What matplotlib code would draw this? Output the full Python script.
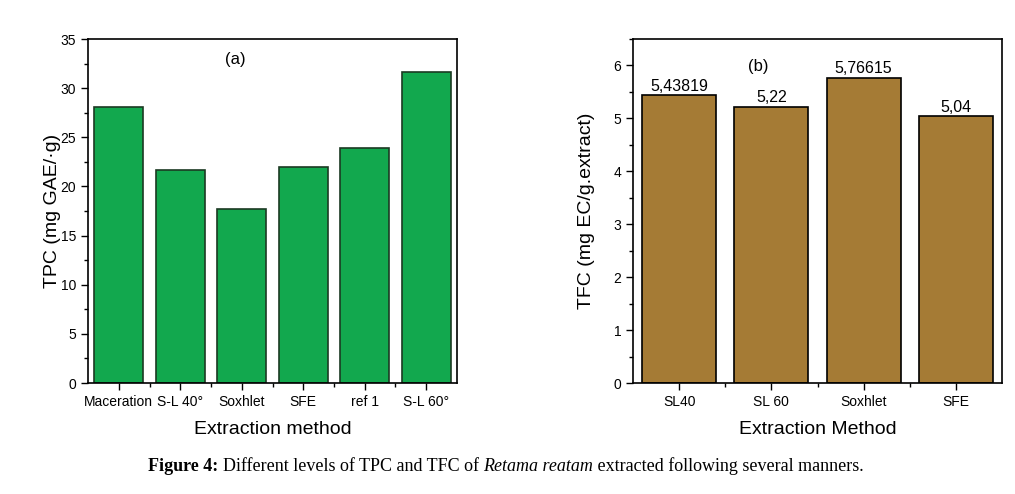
import numpy as np
import matplotlib
matplotlib.use("Agg")
import matplotlib.pyplot as plt
from matplotlib.ticker import MultipleLocator, FixedLocator

# ── DATA ─────────────────────────────────────────────────────
tpc_methods = ["Maceration", "S-L 40°", "Soxhlet", "SFE", "ref 1", "S-L 60°"]
tpc_values = [28.1, 21.7, 17.7, 22.0, 23.9, 31.6]

tfc_methods = ["SL40", "SL 60", "Soxhlet", "SFE"]
tfc_values = [5.43819, 5.22, 5.76615, 5.04]
tfc_labels = ["5,43819", "5,22", "5,76615", "5,04"]

caption_parts = [
    ("Figure 4: ", "normal", "bold"),
    ("Different levels of TPC and TFC of ", "normal", "normal"),
    ("Retama reatam", "italic", "normal"),
    (" extracted following several manners.", "normal", "normal"),
]

plt.rcParams["font.family"] = ["Liberation Sans", "DejaVu Sans"]

fig = plt.figure(figsize=(10.15, 4.94), dpi=100)
W, H = 1015, 494


def style_axes(ax):
    ax.tick_params(which="both", direction="out", top=False, right=False,
                   labelsize=10, colors="black")
    ax.tick_params(which="major", length=5, width=1)
    ax.tick_params(which="minor", length=3, width=1)
    for s in ax.spines.values():
        s.set_linewidth(1.2)


# ── (a) TPC ──────────────────────────────────────────────────
ax1 = fig.add_axes([88 / W, 1 - 383 / H, (457 - 88) / W, (383 - 39) / H])
x1 = np.arange(len(tpc_methods))
ax1.bar(x1, tpc_values, width=0.8, color="#12a84e", edgecolor="#1b3a22", linewidth=1.2)
ax1.set_xlim(-0.5, len(tpc_methods) - 0.5)
ax1.set_ylim(0, 35)
ax1.set_xticks(x1)
ax1.set_xticklabels(tpc_methods)
ax1.xaxis.set_minor_locator(FixedLocator(x1[:-1] + 0.5))
ax1.yaxis.set_major_locator(MultipleLocator(5))
ax1.yaxis.set_minor_locator(MultipleLocator(2.5))
style_axes(ax1)
ax1.set_ylabel("TPC (mg GAE/·g)", fontsize=14, labelpad=0)
ax1.set_xlabel("Extraction method", fontsize=14, labelpad=9)
ax1.text(0.4, 0.94, "(a)", transform=ax1.transAxes, ha="center", va="center", fontsize=12)

# ── (b) TFC ──────────────────────────────────────────────────
ax2 = fig.add_axes([633 / W, 1 - 383 / H, (1002 - 633) / W, (383 - 39) / H])
x2 = np.arange(len(tfc_methods))
bars = ax2.bar(x2, tfc_values, width=0.8, color="#a57b35", edgecolor="black", linewidth=1.2)
ax2.set_xlim(-0.5, len(tfc_methods) - 0.5)
ax2.set_ylim(0, 6.5)
ax2.set_xticks(x2)
ax2.set_xticklabels(tfc_methods)
ax2.xaxis.set_minor_locator(FixedLocator(x2[:-1] + 0.5))
ax2.yaxis.set_major_locator(MultipleLocator(1))
ax2.yaxis.set_minor_locator(MultipleLocator(0.5))
style_axes(ax2)
ax2.bar_label(bars, labels=tfc_labels, padding=1, fontsize=11.5)
ax2.set_ylabel("TFC (mg EC/g.extract)", fontsize=14, labelpad=13)
ax2.set_xlabel("Extraction Method", fontsize=14, labelpad=9)
ax2.text(0.34, 0.92, "(b)", transform=ax2.transAxes, ha="center", va="center", fontsize=12)

# ── CAPTION (pieces laid out one after another) ──────────────
renderer = fig.canvas.get_renderer()
x_px = 148
for txt, style, weight in caption_parts:
    t = fig.text(x_px / W, 1 - 466 / H, txt, fontsize=13, fontstyle=style,
                 fontweight=weight, family=["Liberation Serif", "DejaVu Serif"],
                 va="center", ha="left")
    x_px += t.get_window_extent(renderer=renderer).width

fig.savefig("out.png", dpi=100)
